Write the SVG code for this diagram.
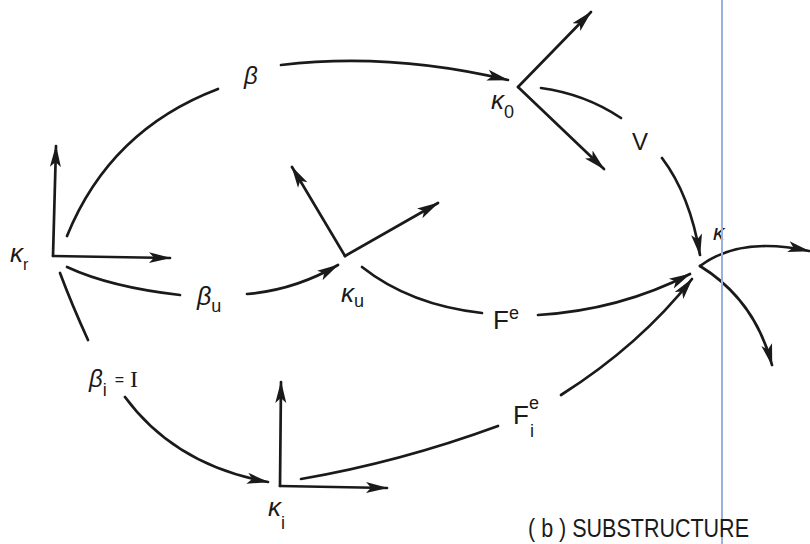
<svg xmlns="http://www.w3.org/2000/svg" width="810" height="544" viewBox="0 0 810 544">
<defs>
<marker id="ah" markerUnits="userSpaceOnUse" markerWidth="22" markerHeight="14" viewBox="0 0 22 14" refX="21" refY="7" orient="auto">
<path d="M0,1.5 L22,7 L0,12.5 L5,7 z" fill="#1a1a1a"/>
</marker>
</defs>
<style>
.ln{fill:none;stroke:#1a1a1a;stroke-width:2.7;stroke-linecap:round}
.ar{marker-end:url(#ah)}
text{font-family:"Liberation Sans","DejaVu Sans",sans-serif;fill:#1a1a1a}
.gr{font-style:italic}
</style>
<rect width="810" height="544" fill="#ffffff"/>
<g id="connectors">
<path class="ln" d="M67,236 Q110,130 218,89"/>
<path class="ln ar" d="M281,65 Q390,52 508,80"/>
<path class="ln" d="M541,88 Q585,94 621,118"/>
<path class="ln ar" d="M662,158 Q690,195 700,255"/>
<path class="ln" d="M67,267 Q110,287 180,295"/>
<path class="ln ar" d="M247,294 Q295,290 338,265"/>
<path class="ln" d="M362,267 Q410,305 482,313"/>
<path class="ln ar" d="M538,315 Q620,310 690,274"/>
<path class="ln" d="M60,273 Q72,305 88,340"/>
<path class="ln ar" d="M125,397 Q175,465 268,482"/>
<path class="ln" d="M301,479 Q400,462 498,426"/>
<path class="ln ar" d="M561,395 Q640,345 692,279"/>
</g>
<g id="node-kr">
<path class="ln ar" d="M53,256 L56,146"/>
<path class="ln ar" d="M53,256 L170,258"/>
<text x="10" y="262" font-size="26" class="gr">κ<tspan font-size="16" font-style="normal" dy="8">r</tspan></text>
</g>
<g id="node-k0">
<path class="ln ar" d="M518,87 L591,12"/>
<path class="ln ar" d="M518,87 L604,169"/>
<text x="491" y="109" font-size="26" class="gr">κ<tspan font-size="18" font-style="normal" dy="9">0</tspan></text>
</g>
<g id="node-ku">
<path class="ln ar" d="M345,256 L292,167"/>
<path class="ln ar" d="M345,256 L438,203"/>
<text x="341" y="302" font-size="26" class="gr">κ<tspan font-size="18" font-style="normal" dy="5">u</tspan></text>
</g>
<g id="node-ki">
<path class="ln ar" d="M280,486 L281,382"/>
<path class="ln ar" d="M280,486 L387,488"/>
<text x="268" y="516" font-size="26" class="gr">κ<tspan font-size="18" font-style="normal" dy="13">i</tspan></text>
</g>
<g id="node-k">
<path class="ln ar" d="M700,266 Q740,236 809,251"/>
<path class="ln ar" d="M700,266 Q755,300 772,365"/>
<text x="713" y="240" font-size="23" class="gr">κ</text>
</g>
<g id="labels">
<text x="244" y="84" font-size="24" class="gr">β</text>
<text x="632" y="150" font-size="24">V</text>
<text x="197" y="305" font-size="25" class="gr">β<tspan font-size="18" font-style="normal" dy="7">u</tspan></text>
<text x="493" y="329" font-size="26">F<tspan font-size="18" dy="-10">e</tspan></text>
<text x="513" y="424" font-size="26">F<tspan font-size="18" dy="-15">e</tspan><tspan font-size="18" dx="-9" dy="28">i</tspan></text>
<text x="89" y="387" font-size="24" class="gr">β<tspan font-size="18" font-style="normal" dy="9">i</tspan><tspan font-size="16" font-style="normal" dx="8" dy="-11">=</tspan><tspan font-size="24" font-style="normal" dx="6" dy="2" font-family="Liberation Serif">I</tspan></text>
</g>
<line x1="722" y1="0" x2="722" y2="544" stroke="#9cb0dc" stroke-width="2"/>
<text x="528" y="537" font-size="25" textLength="221" lengthAdjust="spacingAndGlyphs">( b ) SUBSTRUCTURE</text>
</svg>
